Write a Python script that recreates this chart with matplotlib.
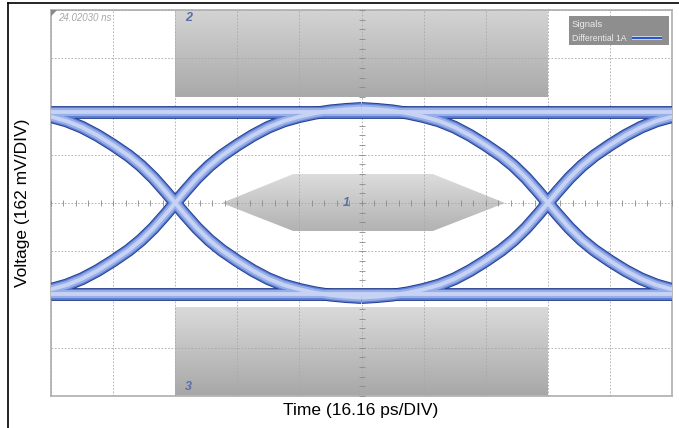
import numpy as np
import matplotlib
matplotlib.use("Agg")
import matplotlib.pyplot as plt
from matplotlib.patches import Polygon, Rectangle
from matplotlib.lines import Line2D
from matplotlib.colors import LinearSegmentedColormap

# screen is 10 x 8 divisions (16.16 ps/div, 162 mV/div), centre = (5, 0)
cross_x = [2.0, 8.0]       # eye crossing points (div)
rail_hi = 1.88             # logic-1 level (div)
rail_lo = -1.88            # logic-0 level (div)

# one edge of the eye: distance from crossing (div) vs distance from centre level (div)
edge_dt = [0.0, 0.15, 0.35, 0.55, 0.75, 1.0, 1.25, 1.5, 1.75, 2.0, 2.25, 2.5, 2.75, 3.0]
edge_dv = [0.0, 0.23, 0.52, 0.77, 0.98, 1.20, 1.40, 1.57, 1.70, 1.79, 1.86, 1.91, 1.94, 1.96]

# how far each crossing's edges reach to the left / right (div)
edge_reach = [(2.0, 3.0), (3.0, 2.0)]

# mask regions
mask_top = [(2.0, 2.2), (8.0, 2.2), (8.0, 4.0), (2.0, 4.0)]
mask_bottom = [(2.0, -4.0), (8.0, -4.0), (8.0, -2.16), (2.0, -2.16)]
mask_centre = [(2.75, 0.0), (3.9, 0.6), (6.15, 0.6), (7.31, 0.0), (6.15, -0.58), (3.9, -0.58)]

timestamp = "24.02030 ns"
signal_name = "Differential 1A"


def edge_curve(xc, left, right):
    dt = np.array(edge_dt)
    dv = np.array(edge_dv)
    l = dt <= left
    r = dt <= right
    x = np.concatenate([xc - dt[l][::-1], xc + dt[r][1:]])
    v = np.concatenate([dv[l][::-1], dv[r][1:]])
    return x, v


def grad_fill(ax, verts, top, bottom):
    poly = Polygon(verts, closed=True, fc="none", ec="none")
    ax.add_patch(poly)
    xs = [p[0] for p in verts]
    ys = [p[1] for p in verts]
    cmap = LinearSegmentedColormap.from_list("g", [bottom, top])
    g = np.linspace(0, 1, 256).reshape(-1, 1)
    im = ax.imshow(g, cmap=cmap, origin="lower", aspect="auto", zorder=1,
                   extent=[min(xs), max(xs), min(ys), max(ys)])
    im.set_clip_path(poly)


plt.rcParams["font.family"] = ["Liberation Sans", "DejaVu Sans"]
fig = plt.figure(figsize=(6.79, 4.28), dpi=100)
ax = fig.add_axes([51 / 679, 1 - 396 / 428, 621 / 679, 386 / 428])

grad_fill(ax, mask_top, "#d4d4d4", "#a9a9a9")
grad_fill(ax, mask_bottom, "#dadada", "#a7a7a7")
grad_fill(ax, mask_centre, "#dcdcdc", "#b2b2b2")

# grid
ax.set_xticks(range(0, 11))
ax.set_yticks(range(-4, 5))
ax.tick_params(length=0, labelbottom=False, labelleft=False)
ax.set_axisbelow(False)
ax.grid(True, color="#a8a8a8", lw=0.6, ls=(0, (2, 2)))
for s in ax.spines.values():
    s.set_color("#b4b4b4")
    s.set_linewidth(1.3)

# centre axes with minor ticks
tx = np.arange(0, 10.01, 0.2)
ty = np.arange(-4, 4.01, 0.2)
ax.plot(tx, np.zeros_like(tx), ls="none", marker="|", ms=4.5, mew=0.6, color="#8a8a8a", zorder=2.6)
ax.plot(np.full_like(ty, 5.0), ty, ls="none", marker="_", ms=4.5, mew=0.6, color="#8a8a8a", zorder=2.6)

# traces
traces = [([0, 10], [rail_hi, rail_hi]), ([0, 10], [rail_lo, rail_lo])]
for xc, (lft, rgt) in zip(cross_x, edge_reach):
    x, v = edge_curve(xc, lft, rgt)
    traces.append((x, v))
    traces.append((x, -v))

layers = [("#233d8e", 9.2), ("#5d7ed4", 7.8), ("#98aee8", 5.8), ("#c6d3f4", 2.8)]
for i, (col, lw) in enumerate(layers):
    for x, y in traces:
        ax.plot(x, y, color=col, lw=lw, solid_capstyle="butt", zorder=3 + i)

# mask labels
lab = dict(color="#5b6fa8", fontsize=9, fontweight="bold", style="italic", zorder=8)
ax.text(2.16, 3.83, "2", ha="left", va="center", **lab)
ax.text(2.16, -3.81, "3", ha="left", va="center", **lab)
ax.text(4.75, 0.0, "1", ha="center", va="center", **lab)

# timestamp
ax.add_patch(Polygon([(0, 4), (0.1, 4), (0, 3.87)], closed=True, fc="#8a8a8a", ec="none", zorder=8))
ax.text(0.11, 3.84, timestamp, color="#a8a8a8", fontsize=7, style="italic", va="center", zorder=8)

# signal legend box
ax.add_patch(Rectangle((8.34, 3.27), 1.61, 0.61, fc="#8e8e8e", ec="none", zorder=8))
ax.text(8.39, 3.69, "Signals", color="#ececec", fontsize=6.8, va="center", zorder=9)
ax.text(8.39, 3.40, signal_name, color="#ececec", fontsize=6.2, va="center", zorder=9)
ax.plot([9.36, 9.84], [3.41, 3.41], color="#d8e0f4", lw=2.6, solid_capstyle="butt", zorder=9)
ax.plot([9.36, 9.84], [3.41, 3.41], color="#2452d2", lw=1.4, solid_capstyle="butt", zorder=10)

ax.set_xlim(0, 10)
ax.set_ylim(-4, 4)

# outer frame lines
fig.add_artist(Line2D([7.5 / 679, 1], [1 - 2.5 / 428] * 2, color="black", lw=1.2))
fig.add_artist(Line2D([7.5 / 679] * 2, [0, 1 - 2.5 / 428], color="black", lw=1.2))

fig.text(22 / 679, 1 - 203 / 428, "Voltage (162 mV/DIV)", rotation=90,
         ha="center", va="center", fontsize=12.5)
fig.text(361 / 679, 1 - 411 / 428, "Time (16.16 ps/DIV)", ha="center", va="center", fontsize=12.5)

fig.savefig("out.png", dpi=100)
